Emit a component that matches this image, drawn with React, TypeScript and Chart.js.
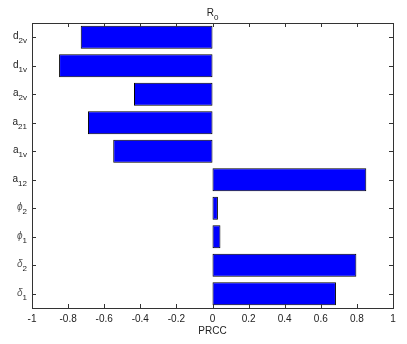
import React, { useEffect, useRef } from "react";
import { Chart, registerables } from "chart.js";

Chart.register(...registerables);

// Parameter names: base symbol + subscript (top to bottom)
const paramBase = ["d", "d", "a", "a", "a", "a", "ϕ", "ϕ", "δ", "δ"];
const paramSub = ["2v", "1v", "2v", "21", "1v", "12", "2", "1", "2", "1"];
const paramGreek = [false, false, false, false, false, false, true, true, true, true];
const prccValues = [-0.73, -0.85, -0.435, -0.69, -0.55, 0.852, 0.03, 0.044, 0.797, 0.684];
const xTicks = [-1, -0.8, -0.6, -0.4, -0.2, 0, 0.2, 0.4, 0.6, 0.8, 1];
const titleBase = "R";
const titleSub = "0";
const xTitle = "PRCC";

const FONT = "'Liberation Sans', Arial, Helvetica, sans-serif";

const axisPlugin = {
  id: "matlabAxes",
  afterDraw(chart: any) {
    const ctx = chart.ctx;
    const { left, right, top, bottom } = chart.chartArea;
    const xs = chart.scales.x;
    const ys = chart.scales.y;
    ctx.save();
    ctx.strokeStyle = "#333";
    ctx.lineWidth = 1;
    // box
    ctx.strokeRect(Math.round(left) + 0.5, Math.round(top) + 0.5, Math.round(right - left), Math.round(bottom - top));
    // x ticks
    ctx.beginPath();
    xTicks.forEach((v) => {
      const px = Math.round(xs.getPixelForValue(v)) + 0.5;
      ctx.moveTo(px, bottom);
      ctx.lineTo(px, bottom - 4);
      ctx.moveTo(px, top);
      ctx.lineTo(px, top + 4);
    });
    // y ticks
    paramBase.forEach((_, i) => {
      const py = Math.round(ys.getPixelForValue(i)) + 0.5;
      ctx.moveTo(left, py);
      ctx.lineTo(left + 4, py);
      ctx.moveTo(right, py);
      ctx.lineTo(right - 4, py);
    });
    ctx.stroke();

    // y labels with subscripts
    ctx.textBaseline = "alphabetic";
    paramBase.forEach((b, i) => {
      const py = ys.getPixelForValue(i);
      const mainFont = (paramGreek[i] ? "italic " : "") + "10px " + FONT;
      const subFont = "8px " + FONT;
      ctx.font = subFont;
      const sw = ctx.measureText(paramSub[i]).width;
      ctx.font = mainFont;
      const bw = ctx.measureText(b).width;
      const xEnd = left - 5;
      const xStart = xEnd - sw - bw;
      ctx.fillStyle = paramGreek[i] ? "#555" : "#222";
      ctx.textAlign = "left";
      ctx.fillText(b, xStart, py + 2);
      ctx.font = subFont;
      ctx.fillStyle = "#222";
      ctx.fillText(paramSub[i], xStart + bw, py + 6);
    });

    // title R_0
    ctx.font = "10px " + FONT;
    const rw = ctx.measureText(titleBase).width;
    ctx.font = "8px " + FONT;
    const zw = ctx.measureText(titleSub).width;
    const cx = xs.getPixelForValue(0);
    const tx = cx - (rw + zw) / 2;
    ctx.fillStyle = "#222";
    ctx.textAlign = "left";
    ctx.font = "10px " + FONT;
    ctx.fillText(titleBase, tx, top - 7);
    ctx.font = "8px " + FONT;
    ctx.fillText(titleSub, tx + rw, top - 3);
    ctx.restore();
  },
};

export default function App() {
  const ref = useRef<HTMLCanvasElement | null>(null);
  useEffect(() => {
    document.body.style.margin = "0";
    const chart = new Chart(ref.current as HTMLCanvasElement, {
      type: "bar",
      data: {
        labels: paramBase.map((b, i) => b + paramSub[i]),
        datasets: [
          {
            data: prccValues,
            backgroundColor: "#0000ff",
            borderColor: "#000",
            borderWidth: 1,
            borderSkipped: false,
            barPercentage: 0.8,
            categoryPercentage: 1,
          },
        ],
      },
      options: {
        indexAxis: "y",
        animation: false,
        responsive: false,
        maintainAspectRatio: false,
        layout: { padding: { left: 0, right: 14, top: 23, bottom: 0 } },
        plugins: { legend: { display: false }, tooltip: { enabled: false }, title: { display: false } },
        scales: {
          x: {
            type: "linear",
            min: -1,
            max: 1,
            afterBuildTicks: (scale: any) => {
              scale.ticks = xTicks.map((v) => ({ value: v }));
            },
            afterFit: (scale: any) => {
              scale.height = 36;
            },
            grid: { display: false, drawTicks: false, tickLength: 0 },
            border: { display: false },
            ticks: {
              padding: 5,
              autoSkip: false,
              maxRotation: 0,
              color: "#222",
              font: { family: FONT, size: 10 },
              callback: (v: any) => String(Math.round(Number(v) * 10) / 10),
            },
            title: {
              display: true,
              text: xTitle,
              color: "#222",
              font: { family: FONT, size: 10 },
              padding: { top: 0, bottom: 7 },
            },
          },
          y: {
            afterFit: (scale: any) => {
              scale.width = 32;
            },
            grid: { display: false, drawTicks: false },
            border: { display: false },
            ticks: { callback: () => "" },
          },
        },
      },
      plugins: [axisPlugin],
    } as any);
    return () => chart.destroy();
  }, []);
  return <canvas ref={ref} width={407} height={344} style={{ display: "block" }} />;
}
